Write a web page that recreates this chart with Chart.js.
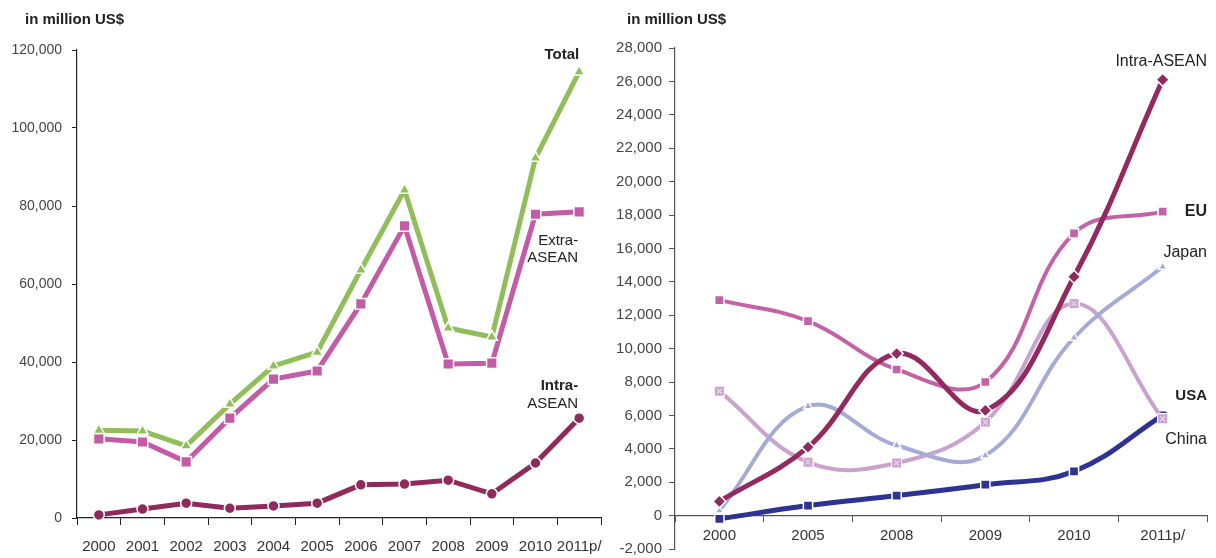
<!DOCTYPE html>
<html><head><meta charset="utf-8">
<script src="https://cdn.jsdelivr.net/npm/chart.js@4"></script>
<style>
html,body{margin:0;padding:0;background:#fff;width:1216px;height:558px;overflow:hidden}
#l{position:absolute;left:0;top:0}
#r{position:absolute;left:610px;top:0}
</style></head><body>
<canvas id="l" width="610" height="558"></canvas>
<canvas id="r" width="606" height="558"></canvas>
<script>
// ---------- data: left panel ----------
const yearsLeft = ['2000','2001','2002','2003','2004','2005','2006','2007','2008','2009','2010','2011p/'];
const totalLeft = [22500, 22300, 18500, 29200, 39000, 42500, 63600, 84100, 48700, 46400, 92300, 114400];
const extraAseanLeft = [20300, 19500, 14400, 25600, 35600, 37700, 54900, 74900, 39500, 39700, 77900, 78500];
const intraAseanLeft = [800, 2300, 3800, 2500, 3100, 3800, 8500, 8700, 9700, 6200, 14100, 25600];

// ---------- data: right panel ----------
const yearsRight = ['2000','2005','2008','2009','2010','2011p/'];
const intraAseanRight = [850, 4100, 9700, 6300, 14300, 26100];
const euRight = [12900, 11650, 8750, 8000, 16900, 18200];
const japanRight = [300, 6550, 4200, 3600, 10650, 14900];
const chinaRight = [7450, 3200, 3150, 5600, 12700, 5800];
const usaRight = [-200, 600, 1200, 1850, 2650, 6000];

const unitTitle = 'in million US$';

const FF = '"Liberation Sans", Arial, Helvetica, sans-serif';
const C = {
  total: '#8fbe5a', extra: '#c35ca6', intraL: '#8f2b5c',
  intraR: '#93295e', eu: '#c462a8', japan: '#a5aad6', china: '#c9a3cd', usa: '#2e3290'
};

function chinaPoint(){
  const s = 11, c = document.createElement('canvas');
  c.width = s; c.height = s;
  const g = c.getContext('2d');
  g.fillStyle = '#fff'; g.fillRect(0,0,s,s);
  g.fillStyle = C.china; g.fillRect(1,1,s-2,s-2);
  g.strokeStyle = '#fff'; g.lineWidth = 1;
  g.beginPath(); g.moveTo(3,3); g.lineTo(s-3,s-3); g.moveTo(s-3,3); g.lineTo(3,s-3); g.stroke();
  return c;
}

const labelPlugin = {
  id: 'labels',
  afterDatasetsDraw(chart, args, opts){
    const ctx = chart.ctx;
    ctx.save();
    ctx.fillStyle = '#222';
    ctx.textBaseline = 'middle';
    ctx.textAlign = 'left';
    ctx.font = 'bold 15px ' + FF;
    ctx.fillText(opts.title, opts.titleX, 20);
    ctx.textAlign = 'right';
    for (const L of opts.items){
      const meta = chart.getDatasetMeta(L.ds);
      const pt = meta.data[meta.data.length - 1];
      const x = L.area ? chart.chartArea.right : pt.x;
      ctx.font = L.font + ' ' + FF;
      ctx.fillText(L.text, x + (L.dx || 0), pt.y + L.dy);
    }
    ctx.restore();
  }
};

function fixY(w){ return s => { s.width = w; s.paddingTop = 0; s.paddingBottom = 0; }; }
function fixX(h){ return s => { s.height = h; s.paddingLeft = 0; s.paddingRight = 0; }; }

// ---------- left chart ----------
new Chart(document.getElementById('l'), {
  type: 'line',
  data: {
    labels: yearsLeft,
    datasets: [
      { label: 'Total', data: totalLeft, borderColor: C.total, backgroundColor: C.total,
        borderWidth: 5, pointStyle: 'triangle', pointRadius: 6.5, pointBorderColor: '#fff', pointBorderWidth: 1.5, tension: 0, clip: false },
      { label: 'Extra-ASEAN', data: extraAseanLeft, borderColor: C.extra, backgroundColor: C.extra,
        borderWidth: 5, pointStyle: 'rect', pointRadius: 7.5, pointBorderColor: '#fff', pointBorderWidth: 1.5, tension: 0, clip: false },
      { label: 'Intra-ASEAN', data: intraAseanLeft, borderColor: C.intraL, backgroundColor: C.intraL,
        borderWidth: 5, pointStyle: 'circle', pointRadius: 5.5, pointBorderColor: '#fff', pointBorderWidth: 1.5, tension: 0, clip: false }
    ]
  },
  options: {
    responsive: false, animation: false,
    layout: { padding: { top: 50, right: 0, left: 0, bottom: 0 } },
    plugins: {
      legend: { display: false }, tooltip: { enabled: false },
      labels: {
        title: unitTitle, titleX: 25,
        items: [
          { ds: 0, text: 'Total', font: 'bold 15px', dy: -17 },
          { ds: 1, text: 'Extra-', font: '15px', dy: 29, dx: -1 },
          { ds: 1, text: 'ASEAN', font: '15px', dy: 46, dx: -1 },
          { ds: 2, text: 'Intra-', font: 'bold 15px', dy: -32, dx: -1 },
          { ds: 2, text: 'ASEAN', font: '15px', dy: -14, dx: -1 }
        ]
      }
    },
    scales: {
      x: {
        offset: true,
        grid: { offset: true, drawOnChartArea: false, drawTicks: true, tickLength: 7, color: '#222' },
        border: { display: true, color: '#222', width: 1.2 },
        ticks: { font: { family: FF, size: 15 }, color: '#333', padding: 13, maxRotation: 0, autoSkip: false },
        afterFit: fixX(40)
      },
      y: {
        min: 0, max: 120000,
        ticks: { stepSize: 20000, font: { family: FF, size: 14 }, color: '#444', padding: 10 },
        grid: { drawOnChartArea: false, drawTicks: true, tickLength: 5, color: '#222' },
        border: { display: true, color: '#222', width: 1.2 },
        afterFit: fixY(77)
      }
    }
  },
  plugins: [labelPlugin]
});

// ---------- right chart ----------
new Chart(document.getElementById('r'), {
  type: 'line',
  data: {
    labels: yearsRight,
    datasets: [
      { label: 'Intra-ASEAN', data: intraAseanRight, borderColor: C.intraR, backgroundColor: C.intraR,
        borderWidth: 5, pointStyle: 'rectRot', pointRadius: 6.5, pointBorderColor: '#fff', pointBorderWidth: 1.5, tension: 0.4, clip: false },
      { label: 'EU', data: euRight, borderColor: C.eu, backgroundColor: C.eu,
        borderWidth: 4, pointStyle: 'rect', pointRadius: 6.5, pointBorderColor: '#fff', pointBorderWidth: 1.5, tension: 0.4, clip: false },
      { label: 'Japan', data: japanRight, borderColor: C.japan, backgroundColor: C.japan,
        borderWidth: 4, pointStyle: 'triangle', pointRadius: 5, pointBorderColor: '#fff', pointBorderWidth: 1.5, tension: 0.4, clip: false },
      { label: 'China', data: chinaRight, borderColor: C.china, backgroundColor: C.china,
        borderWidth: 4, pointStyle: chinaPoint(), pointRadius: 5, tension: 0.4, clip: false },
      { label: 'USA', data: usaRight, borderColor: C.usa, backgroundColor: C.usa,
        borderWidth: 5, pointStyle: 'rect', pointRadius: 6.5, pointBorderColor: '#fff', pointBorderWidth: 1.5, tension: 0.4, clip: false }
    ]
  },
  options: {
    responsive: false, animation: false,
    layout: { padding: { top: 48, right: 9, left: 0, bottom: 0 } },
    plugins: {
      legend: { display: false }, tooltip: { enabled: false },
      labels: {
        title: unitTitle, titleX: 17,
        items: [
          { ds: 0, text: 'Intra-ASEAN', font: '16px', dy: -18, area: true },
          { ds: 1, text: 'EU', font: 'bold 16px', dy: 0, area: true },
          { ds: 2, text: 'Japan', font: '16px', dy: -14, area: true },
          { ds: 4, text: 'USA', font: 'bold 15px', dy: -20, area: true },
          { ds: 4, text: 'China', font: '16px', dy: 24, area: true }
        ]
      }
    },
    scales: {
      x: {
        position: { y: 0 },
        offset: true,
        grid: { offset: true, drawOnChartArea: false, drawTicks: true, tickLength: 6, color: '#555' },
        border: { display: true, color: '#555', width: 1.2 },
        ticks: { font: { family: FF, size: 15 }, color: '#333', padding: 5, maxRotation: 0, autoSkip: false },
        afterFit: fixX(6)
      },
      y: {
        min: -2000, max: 28000,
        ticks: { stepSize: 2000, font: { family: FF, size: 15 }, color: '#444', padding: 7 },
        grid: { drawOnChartArea: false, drawTicks: true, tickLength: 6, color: '#555' },
        border: { display: true, color: '#555', width: 1.2 },
        afterFit: fixY(65)
      }
    }
  },
  plugins: [labelPlugin]
});
</script>
</body></html>
